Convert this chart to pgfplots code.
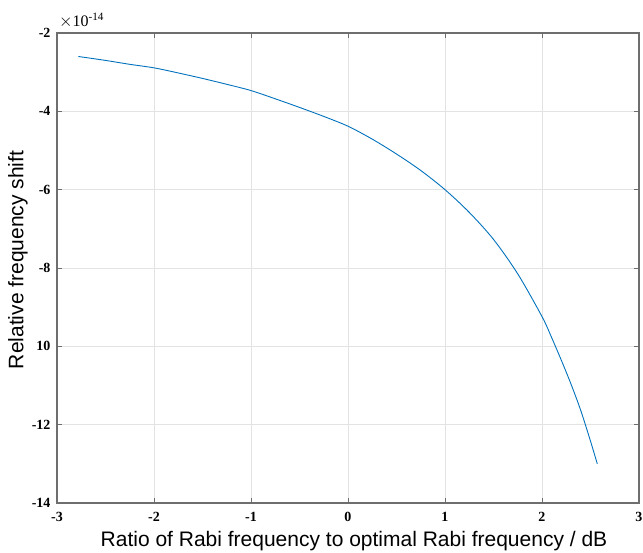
\documentclass[border=0pt]{standalone}
\usepackage{pgfplots}
\pgfplotsset{compat=1.18}
\usepackage{fontspec}
\setmainfont{Liberation Serif}
\newfontfamily\arialfont{Liberation Sans}
\definecolor{mblue}{RGB}{0,114,189}
\definecolor{axgray}{RGB}{110,110,110}
\begin{document}
\begin{tikzpicture}[x=1pt,y=1pt]
\useasboundingbox (-57,-50) rectangle (586,503);
\begin{axis}[
  name=ax,
  at={(0,0)}, anchor=south west,
  scale only axis, width=582pt, height=470pt,
  xmin=-3, xmax=3, ymin=-14, ymax=-2,
  xtick={-3,-2,-1,0,1,2,3},
  ytick={-14,-12,-10,-8,-6,-4,-2},
  yticklabels={-14,-12,10,-8,-6,-4,-2},
  xticklabels={-3,-2,-1,0,1,2,3},
  tick label style={font=\fontsize{14}{14}\selectfont\bfseries},
  tick align=inside, major tick length=5pt,
  tick style={axgray, line width=0.8pt},
  axis line style={axgray, line width=1.2pt},
  grid=major, major grid style={gray!22, line width=0.6pt},
  xlabel={\arialfont Ratio of Rabi frequency to optimal Rabi frequency / dB},
  ylabel={\arialfont Relative frequency shift},
  label style={font=\fontsize{21}{21}\selectfont},
  xlabel style={at={(rel axis cs:0.5,0)}, anchor=center, yshift=-38pt, xshift=6pt},
  ylabel style={at={(rel axis cs:0,0.5)}, anchor=center, yshift=39pt, xshift=8pt},
  xticklabel style={yshift=-6pt},
  yticklabel style={xshift=-3pt},
]
\addplot[mblue, line width=0.9pt, smooth] coordinates {
(-2.78,-2.60) (-2.5,-2.70) (-2.25,-2.80) (-2.0,-2.89) (-1.75,-3.02)
(-1.5,-3.16) (-1.25,-3.31) (-1.0,-3.47) (-0.75,-3.68) (-0.5,-3.90)
(-0.25,-4.13) (0,-4.38) (0.25,-4.71) (0.5,-5.09) (0.75,-5.51)
(1.0,-6.0) (1.25,-6.58) (1.5,-7.27) (1.75,-8.15) (2.0,-9.24)
(2.1,-9.78) (2.2,-10.36) (2.3,-10.97) (2.4,-11.64) (2.5,-12.42) (2.57,-13.0)
};
\end{axis}
\node[anchor=south west, font=\fontsize{16}{16}\selectfont, inner sep=0pt] at ([xshift=2pt,yshift=5pt]ax.north west) {$\times$10\textsuperscript{-14}};
\end{tikzpicture}
\end{document}
